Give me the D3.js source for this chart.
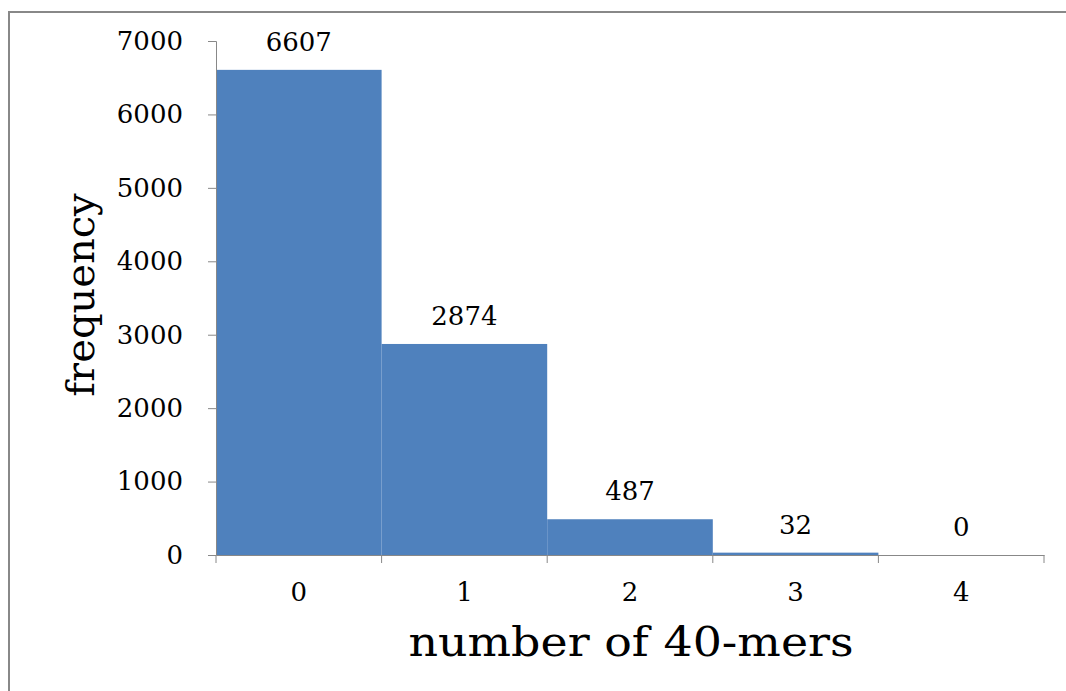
<!DOCTYPE html>
<html><head><meta charset="utf-8">
<script src="https://cdn.jsdelivr.net/npm/d3@7"></script>
<style>body{margin:0;background:#fff}svg{display:block}text{font-family:"DejaVu Serif",serif;fill:#000}</style>
</head><body><svg id="c" width="1066" height="691"></svg>
<script>
const categories = ["0","1","2","3","4"];
const frequencies = [6607, 2874, 487, 32, 0];
const yTicks = [0,1000,2000,3000,4000,5000,6000,7000];
const xTitle = "number of 40-mers";
const yTitle = "frequency";

const svg = d3.select("#c");
const plot = {left:216, right:1044, top:41, bottom:555};
const FS = 26;
svg.append("rect").attr("x",9).attr("y",12).attr("width",1100).attr("height",720)
  .attr("fill","none").attr("stroke","#888").attr("stroke-width",2);

const x = d3.scaleBand().domain(categories).range([plot.left, plot.right]).padding(0);
const y = d3.scaleLinear().domain([0,7000]).range([plot.bottom, plot.top]);

svg.append("g").selectAll("rect").data(frequencies).join("rect")
  .attr("x",(d,i)=>x(categories[i])).attr("width",x.bandwidth())
  .attr("y",d=>y(d)).attr("height",d=>y(0)-y(d)).attr("fill","#4F81BD");

// y axis
const ya = svg.append("g").attr("transform",`translate(${plot.left},0)`)
  .call(d3.axisLeft(y).tickValues(yTicks).tickSize(8).tickPadding(25).tickFormat(d3.format("d")));
ya.select(".domain").attr("stroke","#888");
ya.selectAll(".tick line").attr("stroke","#888");
ya.selectAll("text").attr("font-size",FS).attr("font-family","DejaVu Serif").attr("fill","#000");

// x axis
const xa = svg.append("g").attr("transform",`translate(0,${plot.bottom})`)
  .call(d3.axisBottom(x).tickSize(0).tickPadding(28));
xa.select(".domain").attr("stroke","#888");
xa.selectAll("text").attr("font-size",FS).attr("font-family","DejaVu Serif").attr("fill","#000");
const bounds = categories.map(c=>x(c)).concat([x(categories[categories.length-1])+x.bandwidth()]);
xa.selectAll("line.b").data(bounds).join("line").attr("class","b")
  .attr("x1",d=>d).attr("x2",d=>d).attr("y1",0).attr("y2",8).attr("stroke","#888");

// labels
svg.append("g").selectAll("text").data(frequencies).join("text")
  .attr("x",(d,i)=>x(categories[i])+x.bandwidth()/2).attr("y",d=>y(d)-19)
  .attr("text-anchor","middle").attr("font-size",FS).text(d=>d);

svg.append("text").attr("transform","translate(631,656) scale(1.12,1)").attr("text-anchor","middle")
  .attr("font-size",41).text(xTitle);
svg.append("text").attr("transform","translate(94,295) rotate(-90)").attr("text-anchor","middle")
  .attr("font-size",40).text(yTitle);
</script></body></html>
